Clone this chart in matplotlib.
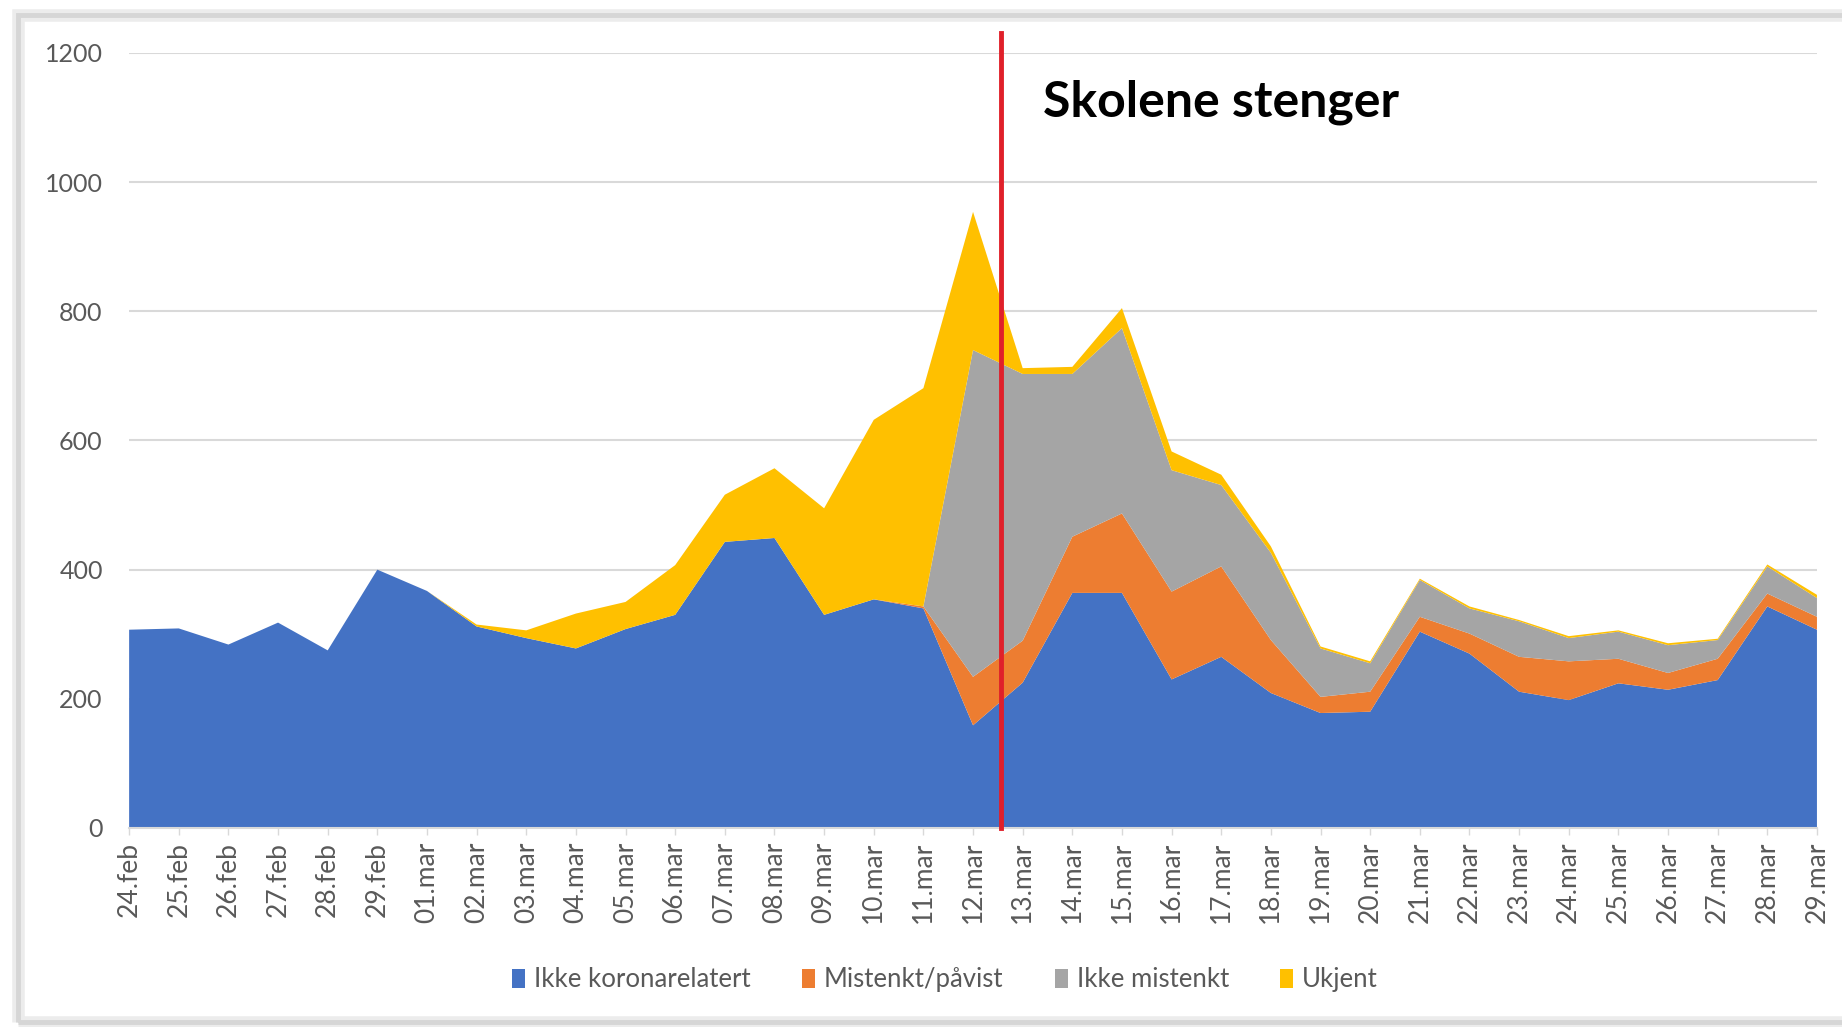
import matplotlib.pyplot as plt
from matplotlib.patches import Rectangle
import numpy as np

# daily counts
dates = ['24.feb', '25.feb', '26.feb', '27.feb', '28.feb', '29.feb',
         '01.mar', '02.mar', '03.mar', '04.mar', '05.mar', '06.mar', '07.mar',
         '08.mar', '09.mar', '10.mar', '11.mar', '12.mar', '13.mar', '14.mar',
         '15.mar', '16.mar', '17.mar', '18.mar', '19.mar', '20.mar', '21.mar',
         '22.mar', '23.mar', '24.mar', '25.mar', '26.mar', '27.mar', '28.mar',
         '29.mar']
ikke_korona = [307, 309, 284, 318, 275, 400, 367, 312, 294, 278, 308, 330, 443,
               449, 330, 354, 340, 159, 225, 364, 364, 230, 265, 209, 178, 180,
               304, 270, 211, 198, 224, 214, 229, 343, 307]
mistenkt = [0, 0, 0, 0, 0, 0, 0, 0, 0, 0, 0, 0, 0,
            0, 0, 0, 3, 75, 65, 87, 123, 136, 140, 82, 25, 31,
            23, 31, 54, 60, 38, 26, 33, 20, 20]
ikke_mistenkt = [0, 0, 0, 0, 0, 0, 0, 0, 0, 0, 0, 0, 0,
                 0, 0, 0, 0, 506, 413, 252, 287, 188, 126, 135, 75, 44,
                 57, 39, 55, 36, 42, 43, 29, 42, 29]
ukjent = [0, 0, 0, 0, 0, 0, 0, 3, 12, 54, 42, 77, 73,
          108, 165, 278, 338, 214, 9, 11, 31, 29, 16, 10, 3, 3,
          2, 3, 2, 3, 2, 3, 2, 3, 5]
series_names = ['Ikke koronarelatert', 'Mistenkt/påvist', 'Ikke mistenkt', 'Ukjent']
series_colors = ['#4472C4', '#ED7D31', '#A5A5A5', '#FFC000']

closing_pos = 17.56  # schools closed, between 12.mar and 13.mar

plt.rcParams['font.family'] = ['Lato', 'DejaVu Sans']

fig = plt.figure(figsize=(18.42, 10.27), dpi=100)
ax = fig.add_axes([0.0701, 0.1938, 0.9163, 0.7546])

x = np.arange(len(dates))
ax.stackplot(x, ikke_korona, mistenkt, ikke_mistenkt, ukjent,
             colors=series_colors, labels=series_names, lw=0)

ax.set_xlim(0, len(dates) - 1)
ax.set_ylim(0, 1200)
ax.set_yticks(np.arange(0, 1201, 200))
ax.set_xticks(x)
ax.set_xticklabels(dates, rotation=90)

ax.yaxis.grid(True, color='#d9d9d9', lw=1.5)
ax.set_axisbelow(True)
for s in ['top', 'right', 'left']:
    ax.spines[s].set_visible(False)
ax.spines['bottom'].set_color('#d9d9d9')
ax.spines['bottom'].set_linewidth(1.5)

ax.tick_params(axis='x', length=5, width=1, color='#d9d9d9', pad=5,
               labelsize=19, labelcolor='#595959')
ax.tick_params(axis='y', length=0, pad=19, labelsize=18, labelcolor='#595959')

# red marker line + label
ax.plot([closing_pos, closing_pos], [0, 1231], color='#e0202a', lw=3.5,
        clip_on=False, zorder=5)
ax.text(18.4, 1124, 'Skolene stenger', fontsize=36, fontweight='bold',
        color='black', va='center', ha='left')

fig.legend(loc='center', bbox_to_anchor=(0.513, 0.046), ncol=4, frameon=False,
           fontsize=18.5, labelcolor='#595959', handlelength=0.5, handleheight=0.8,
           handletextpad=0.35, columnspacing=2.0)

# screenshot frame
fig.patches.append(Rectangle((0.0098, 0.005), 1.0, 0.98, transform=fig.transFigure,
                             fill=False, edgecolor='#ececec', lw=9, zorder=0))
fig.patches.append(Rectangle((0.0098, 0.005), 1.0, 0.98, transform=fig.transFigure,
                             fill=False, edgecolor='#d6d6d6', lw=3.5, zorder=0))

fig.savefig('out.png', dpi=100)
